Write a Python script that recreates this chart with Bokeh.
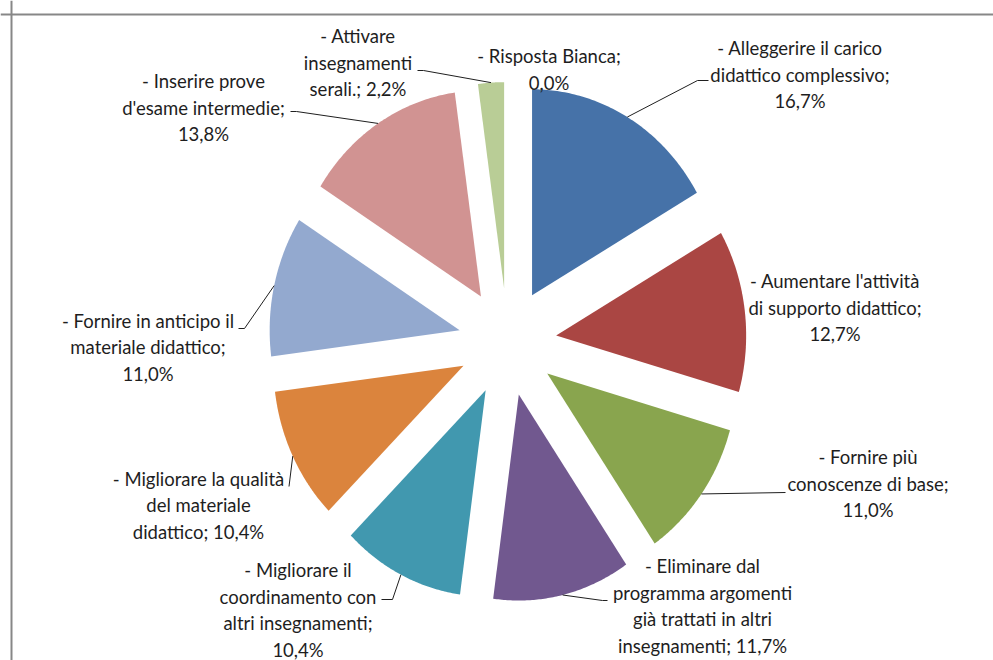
import numpy as np
from bokeh.plotting import figure
from bokeh.models import Range1d, Span, ColumnDataSource
from bokeh.embed import file_html
from bokeh.resources import INLINE
from bokeh.core.properties import value

# ---------------- data ----------------
categories = [
    "- Alleggerire il carico\ndidattico complessivo",
    "- Aumentare l'attività\ndi supporto didattico",
    "- Fornire più\nconoscenze di base",
    "- Eliminare dal\nprogramma argomenti\ngià trattati in altri\ninsegnamenti",
    "- Migliorare il\ncoordinamento con\naltri insegnamenti",
    "- Migliorare la qualità\ndel materiale\ndidattico",
    "- Fornire in anticipo il\nmateriale didattico",
    "- Inserire prove\nd'esame intermedie",
    "- Attivare\ninsegnamenti\nserali.",
    "- Risposta Bianca",
]
percentages = [16.7, 12.7, 11.0, 11.7, 10.4, 10.4, 11.0, 13.8, 2.2, 0.0]

# ---------------- styles / layout ----------------
colors = ["#4672A8", "#AA4643", "#89A54E", "#71588F", "#4198AF",
          "#DB843D", "#93A9CF", "#D19392", "#B9CD96", "#FFFFFF"]
pct_sep = ["\n", "\n", "\n", " ", "\n", " ", "\n", "\n", " ", "\n"]

# pie geometry (pixel space of the page)
CX, CY = 507.0, 341.5
RX, RY = 190.0, 206.0
EX, EY = 49.0, 54.0

# label anchors: centre x and first baseline y
label_x = [799.5, 834.5, 867.5, 702.0, 297.5, 198.0, 147.5, 203.0, 357.5, 548.5]
label_y = [56.0, 289.3, 465.0, 574.0, 578.0, 486.7, 328.5, 89.3, 44.0, 64.3]
BASELINE_SHIFT = -8.5
LINE_STEP = 26.5

# leader line bend points (None = no leader line)
leader_pts = [
    [(697, 80), (708, 80)],
    None,
    [(785, 492)],
    [(602, 600), (607, 600)],
    [(392, 599), (381, 599)],
    [(288.5, 486)],
    [(244, 328), (238, 328)],
    [(296, 111), (290, 111)],
    [(423, 70), (417, 70)],
    None,
]

FONT = "Lato"
FONT_SIZE = "18.5px"
TEXT_COLOR = "#1e1e1e"

# ---------------- figure ----------------
W, H = 993, 660
p = figure(width=W, height=H, x_range=Range1d(0, W), y_range=Range1d(H, 0),
           output_backend="svg", toolbar_location=None, min_border=0,
           x_axis_type=None, y_axis_type=None)
p.grid.visible = False
p.outline_line_color = None
p.background_fill_color = "white"
p.border_fill_color = "white"

# chart-area border (left and top visible)
p.add_layout(Span(location=11, dimension="height", line_color="#878787", line_width=2))
p.add_layout(Span(location=14, dimension="width", line_color="#878787", line_width=2))

total = sum(percentages)
fracs = np.array(percentages) / total
ends = np.cumsum(fracs) * 2 * np.pi
starts = ends - fracs * 2 * np.pi
mids = (starts + ends) / 2

xs, ys, fills = [], [], []
arc_mid = []
for a0, a1, am, c in zip(starts, ends, mids, colors):
    ax = CX + EX * np.sin(am)
    ay = CY - EY * np.cos(am)
    arc_mid.append((ax + RX * np.sin(am), ay - RY * np.cos(am)))
    if a1 - a0 <= 0:
        continue
    t = np.linspace(a0, a1, 80)
    px = np.concatenate([[ax], ax + RX * np.sin(t)])
    py = np.concatenate([[ay], ay - RY * np.cos(t)])
    xs.append(px.tolist())
    ys.append(py.tolist())
    fills.append(c)

p.patches(xs=xs, ys=ys, fill_color=fills, line_color=None)

# leader lines
lx, ly = [], []
for (mx, my), pts in zip(arc_mid, leader_pts):
    if not pts:
        continue
    lx.append([mx] + [q[0] for q in pts])
    ly.append([my] + [q[1] for q in pts])
p.multi_line(xs=lx, ys=ly, line_color="#1f1f1f", line_width=1)

# labels
tx, ty, tt = [], [], []
for cat, v, sep, x0, y0 in zip(categories, percentages, pct_sep, label_x, label_y):
    full = cat + ";" + sep + ("%.1f" % v).replace(".", ",") + "%"
    for i, line in enumerate(full.split("\n")):
        tx.append(x0)
        ty.append(y0 + BASELINE_SHIFT + i * LINE_STEP)
        tt.append(line)
src = ColumnDataSource(dict(x=tx, y=ty, text=tt))
p.text(x="x", y="y", text="text", source=src, text_align="center",
       text_baseline="alphabetic", text_font=value(FONT),
       text_font_size=FONT_SIZE, text_color=TEXT_COLOR)

open("out.html", "w").write(file_html(p, INLINE))
